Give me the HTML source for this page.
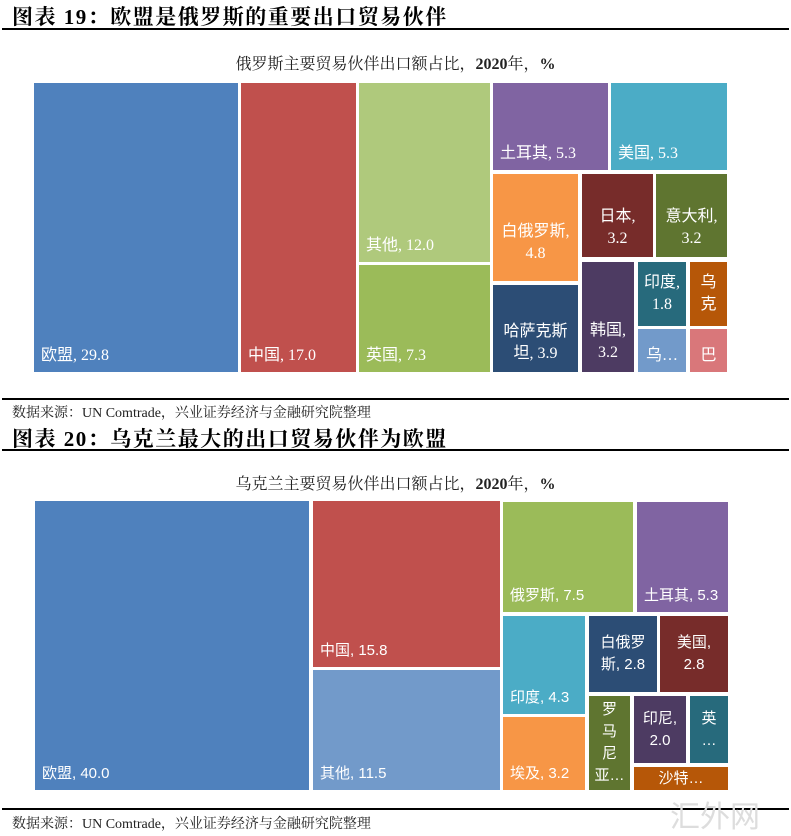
<!DOCTYPE html>
<html><head><meta charset="utf-8"><style>
*{margin:0;padding:0;box-sizing:border-box}
body{width:791px;height:833px;background:#fff;position:relative;overflow:hidden;font-family:"Liberation Serif","Noto Serif CJK SC",serif}
.h{position:absolute;left:12px;font-size:21px;font-weight:bold;color:#000;font-family:"Liberation Serif","Noto Serif CJK SC",serif;letter-spacing:1.5px}
.line{position:absolute;left:2px;width:787px;height:1.5px;background:#000}
.t{position:absolute;left:0;width:791px;text-align:center;font-size:16px;color:#222;font-family:"Liberation Serif","Noto Serif CJK SC",serif}
.src{position:absolute;left:12px;font-size:14px;color:#222;font-family:"Liberation Serif","Noto Serif CJK SC",serif}
.b{position:absolute;color:#fff;font-size:16px;font-family:"Liberation Serif","Noto Sans CJK SC",sans-serif;line-height:22px}
.bl{display:flex;align-items:flex-end;padding:0 0 5px 7px}
.c{display:flex;align-items:center;justify-content:center;text-align:center}
.s .b{font-family:"Liberation Sans","Noto Sans CJK SC",sans-serif;font-size:15px}
</style></head><body>
<div class="h" style="top:1px">图表 19：欧盟是俄罗斯的重要出口贸易伙伴</div>
<div class="line" style="top:28px"></div>
<div class="t" style="top:51px">俄罗斯主要贸易伙伴出口额占比，<b>2020</b>年，<b>%</b></div>

<div class="b bl" style="left:34px;top:83px;width:204px;height:289px;background:#4f81bd">欧盟, 29.8</div>
<div class="b bl" style="left:241px;top:83px;width:115px;height:289px;background:#c0504d">中国, 17.0</div>
<div class="b bl" style="left:359px;top:83px;width:131px;height:179px;background:#afc97c">其他, 12.0</div>
<div class="b bl" style="left:359px;top:265px;width:131px;height:107px;background:#9bbb59">英国, 7.3</div>
<div class="b bl" style="left:493px;top:83px;width:115px;height:87px;background:#8064a2">土耳其, 5.3</div>
<div class="b bl" style="left:611px;top:83px;width:116px;height:87px;background:#4bacc6">美国, 5.3</div>
<div class="b c" style="left:493px;top:174px;width:85px;height:107px;background:#f79646;padding-top:30px">白俄罗斯,<br>4.8</div>
<div class="b c" style="left:582px;top:174px;width:71px;height:83px;background:#772c2a;padding-top:24px">日本,<br>3.2</div>
<div class="b c" style="left:656px;top:174px;width:71px;height:83px;background:#5f7530;padding-top:24px">意大利,<br>3.2</div>
<div class="b c" style="left:493px;top:285px;width:85px;height:87px;background:#2c4d75;padding-top:28px">哈萨克斯<br>坦, 3.9</div>
<div class="b c" style="left:582px;top:262px;width:52px;height:110px;background:#4d3b62;padding-top:50px">韩国,<br>3.2</div>
<div class="b c" style="left:638px;top:262px;width:48px;height:64px;background:#276a7c">印度,<br>1.8</div>
<div class="b c" style="left:690px;top:262px;width:37px;height:64px;background:#b65708">乌<br>克</div>
<div class="b c" style="left:638px;top:329px;width:48px;height:43px;background:#729aca;padding-top:10px">乌…</div>
<div class="b c" style="left:690px;top:329px;width:37px;height:43px;background:#d9777a;padding-top:10px">巴</div>

<div class="line" style="top:398px"></div>
<div class="src" style="top:402px">数据来源：UN Comtrade，兴业证券经济与金融研究院整理</div>
<div class="h" style="top:423px">图表 20：乌克兰最大的出口贸易伙伴为欧盟</div>
<div class="line" style="top:449px"></div>
<div class="t" style="top:471px">乌克兰主要贸易伙伴出口额占比，<b>2020</b>年，<b>%</b></div>

<div class="s">
<div class="b bl" style="left:35px;top:501px;width:274px;height:289px;background:#4f81bd">欧盟, 40.0</div>
<div class="b bl" style="left:313px;top:501px;width:187px;height:166px;background:#c0504d">中国, 15.8</div>
<div class="b bl" style="left:313px;top:670px;width:187px;height:120px;background:#729aca">其他, 11.5</div>
<div class="b bl" style="left:503px;top:502px;width:130px;height:110px;background:#9bbb59">俄罗斯, 7.5</div>
<div class="b bl" style="left:637px;top:502px;width:91px;height:110px;background:#8064a2">土耳其, 5.3</div>
<div class="b bl" style="left:503px;top:616px;width:82px;height:98px;background:#4bacc6">印度, 4.3</div>
<div class="b bl" style="left:503px;top:717px;width:82px;height:73px;background:#f79646">埃及, 3.2</div>
<div class="b c" style="left:589px;top:616px;width:68px;height:76px;background:#2c4d75">白俄罗<br>斯, 2.8</div>
<div class="b c" style="left:660px;top:616px;width:68px;height:76px;background:#772c2a">美国,<br>2.8</div>
<div class="b c" style="left:589px;top:696px;width:41px;height:94px;background:#5f7530">罗<br>马<br>尼<br>亚…</div>
<div class="b c" style="left:634px;top:696px;width:52px;height:67px;background:#4d3b62">印尼,<br>2.0</div>
<div class="b c" style="left:690px;top:696px;width:38px;height:67px;background:#276a7c">英<br>…</div>
<div class="b c" style="left:634px;top:767px;width:94px;height:23px;background:#b65708">沙特…</div>
</div>

<div class="line" style="top:808px"></div>
<div class="src" style="top:813px">数据来源：UN Comtrade，兴业证券经济与金融研究院整理</div>
<div style="position:absolute;left:670px;top:792px;font-size:30px;color:#ddd;font-family:'Noto Sans CJK SC',sans-serif">汇外网</div>
</body></html>
